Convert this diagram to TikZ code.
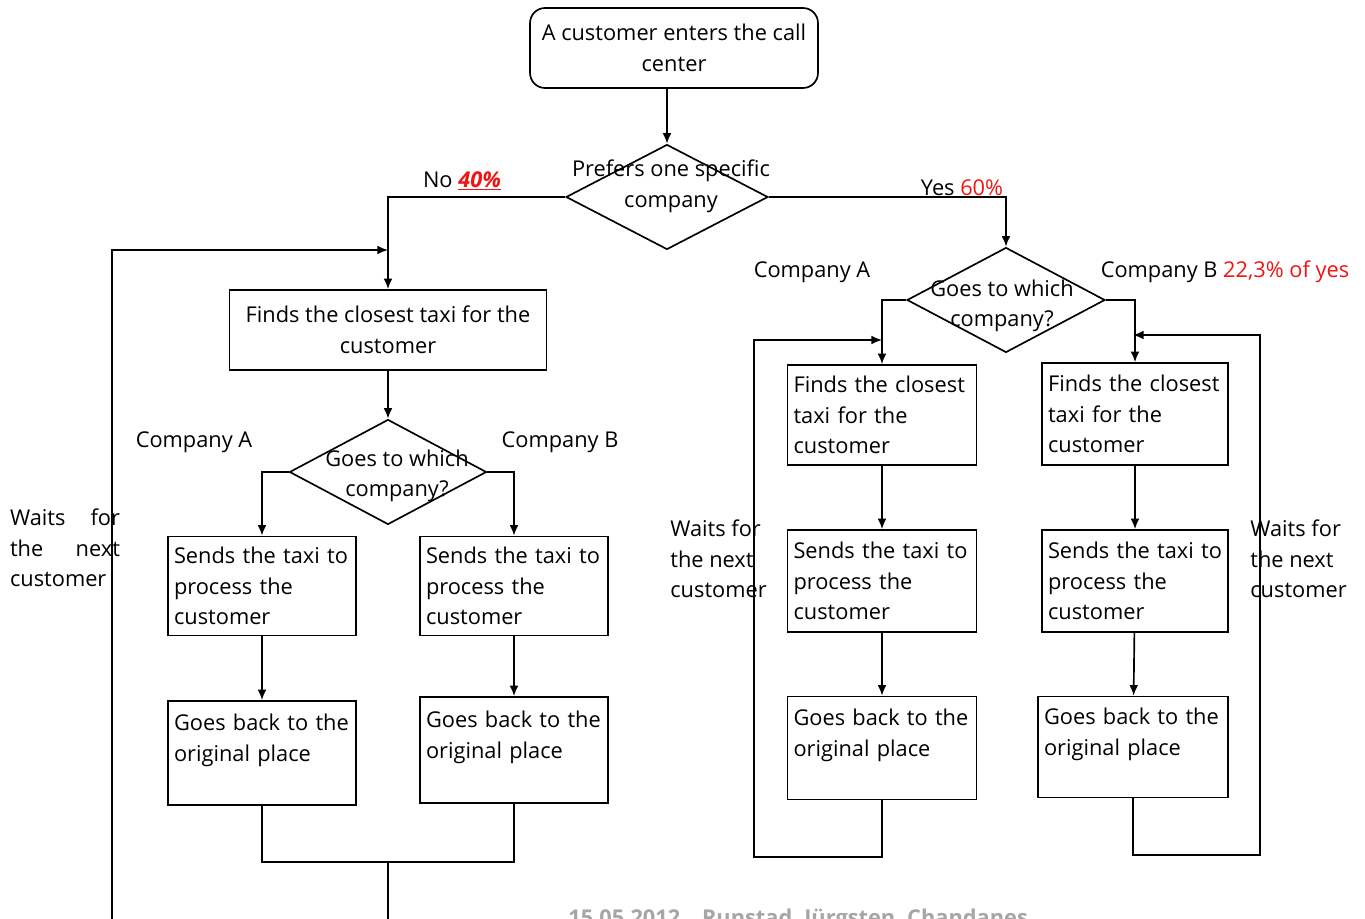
\documentclass[tikz,border=0pt]{standalone}
\usepackage{fontspec}
\setmainfont{Open Sans}
\usepackage{xcolor}
\usepackage{tikz}
\usetikzlibrary{shapes,arrows.meta,positioning,calc}
\definecolor{pctred}{RGB}{240,20,20}
\newcommand{\flowfont}{\fontsize{12.4pt}{17.4pt}\selectfont}

\begin{document}
\begin{tikzpicture}[
    x=0.02cm, y=-0.02cm,
    stepbox/.style={rectangle, draw, line width=0.95pt, align=left, font=\flowfont,
                    inner sep=0.12cm},
    startbox/.style={rectangle, draw, line width=0.95pt, rounded corners=0.3cm, align=center,
                     font=\flowfont, minimum width=5.76cm, minimum height=1.6cm},
    decision/.style={diamond, draw, line width=0.95pt, inner sep=0pt},
    lbl/.style={font=\flowfont, align=center, inner sep=0pt},
    line/.style={line width=0.95pt},
    arrow/.style={->, line width=0.95pt, >={Latex[length=6pt,width=5pt]}}
]
\clip (0,0) rectangle (1365,919);

% Start
\node[startbox] (start) at (674,48) {A customer enters the call\\center};
\node[decision, minimum width=4.04cm, minimum height=2.1cm] (pref) at (667,197) {};
\node[lbl] (prefT) at (671,186) {Prefers one specific\\company};

% Left part
\node[stepbox, align=center, minimum width=6.34cm, minimum height=1.6cm] (find) at (388,330)
    {Finds the closest taxi for the\\customer};
\node[decision, minimum width=3.94cm, minimum height=2.1cm] (whichL) at (388,472) {};
\node[lbl] (whichLT) at (397,476) {Goes to which\\company?};
\node[stepbox, text width=3.52cm, minimum height=1.98cm] (sendLA) at (262,586)
    {Sends the taxi to\\process the\\customer};
\node[stepbox, text width=3.52cm, minimum height=2.08cm] (backLA) at (262,753)
    {Goes back to the\\original place\\\mbox{}};
\node[stepbox, text width=3.52cm, minimum height=1.98cm] (sendLB) at (514,586)
    {Sends the taxi to\\process the\\customer};
\node[stepbox, text width=3.52cm, minimum height=2.12cm] (backLB) at (514,750)
    {Goes back to the\\original place\\\mbox{}};

% Right part
\node[decision, minimum width=3.96cm, minimum height=2.1cm] (whichR) at (1006,300) {};
\node[lbl] (whichRT) at (1002,306) {Goes to which\\company?};
\node[stepbox, text width=3.54cm, minimum height=2.0cm] (findRA) at (882,415)
    {Finds the closest\\taxi for the\\customer};
\node[stepbox, text width=3.54cm, minimum height=2.04cm] (sendRA) at (882,581)
    {Sends the taxi to\\process the\\customer};
\node[stepbox, text width=3.54cm, minimum height=2.06cm] (backRA) at (882,748)
    {Goes back to the\\original place\\\mbox{}};
\node[stepbox, text width=3.48cm, minimum height=2.04cm] (findRB) at (1135,414)
    {Finds the closest\\taxi for the\\customer};
\node[stepbox, text width=3.48cm, minimum height=2.04cm] (sendRB) at (1135,581)
    {Sends the taxi to\\process the\\customer};
\node[stepbox, text width=3.56cm, minimum height=2.02cm] (backRB) at (1133,747)
    {Goes back to the\\original place\\\mbox{}};

% Labels
\node[lbl] (noL) at (462,181) {No \textcolor{pctred}{\textbf{\textit{\underline{40\%}}}}};
\node[lbl] (yesL) at (962,188) {Yes \textcolor{pctred}{60\%}};
\node[lbl] (compRA) at (812,272) {Company A};
\node[lbl] (compRB) at (1225,272) {Company B \textcolor{pctred}{22,3\% of yes}};
\node[lbl] (compLA) at (194,442) {Company A};
\node[lbl] (compLB) at (560,442) {Company B};
\node[lbl, align=left, text width=2.2cm] (waitL) at (65,548)
    {Waits\hfill for\\the\hfill next\\customer};
\node[lbl, align=left, anchor=west] (waitRA) at (670,559) {Waits for\\the next\\customer};
\node[lbl, align=left, anchor=west] (waitRB) at (1250,559) {Waits for\\the next\\customer};
\node[lbl, anchor=base west, text=gray!70, font=\flowfont\bfseries] (footer) at (568,925)
    {15.05.2012\quad Runstad, J\"urgsten, Chandanes};

% Loop points
\coordinate (joinL) at (388,862);
\coordinate (loopL) at (112,919.5);
\coordinate (entryL) at (388,250);
\coordinate (loopA) at (754,857);
\coordinate (entryA) at (882,340);
\coordinate (loopB) at (1260,855);
\coordinate (entryB) at (1133,335);

% Connections
\draw[arrow] (start.south -| pref.north) -- (pref.north);
\draw[arrow] (pref.west) -| (find.north);
\draw[arrow] (pref.east) -| (whichR.north);
\draw[arrow] (find) -- (whichL);
\draw[arrow] (whichL.west) -| (sendLA.north);
\draw[arrow] (whichL.east) -| (sendLB.north);
\draw[arrow] (sendLA) -- (backLA);
\draw[arrow] (sendLB) -- (backLB);
\draw[line] (backLA.south) |- (joinL) -| (backLB.south);
\draw[arrow] (joinL) |- (loopL) -- (loopL |- entryL) -- (entryL);
\draw[arrow] (whichR.west) -| (findRA.north);
\draw[arrow] (whichR.east) -| (findRB.north);
\draw[arrow] (findRA) -- (sendRA);
\draw[arrow] (sendRA) -- (backRA);
\draw[arrow] (findRB) -- (sendRB);
\draw[arrow] (sendRB) -- (backRB);
\draw[arrow] (backRA.south) |- (loopA) -- (loopA |- entryA) -- (entryA);
\draw[arrow] (backRB.south) |- (loopB) -- (loopB |- entryB) -- (entryB);

\end{tikzpicture}
\end{document}
